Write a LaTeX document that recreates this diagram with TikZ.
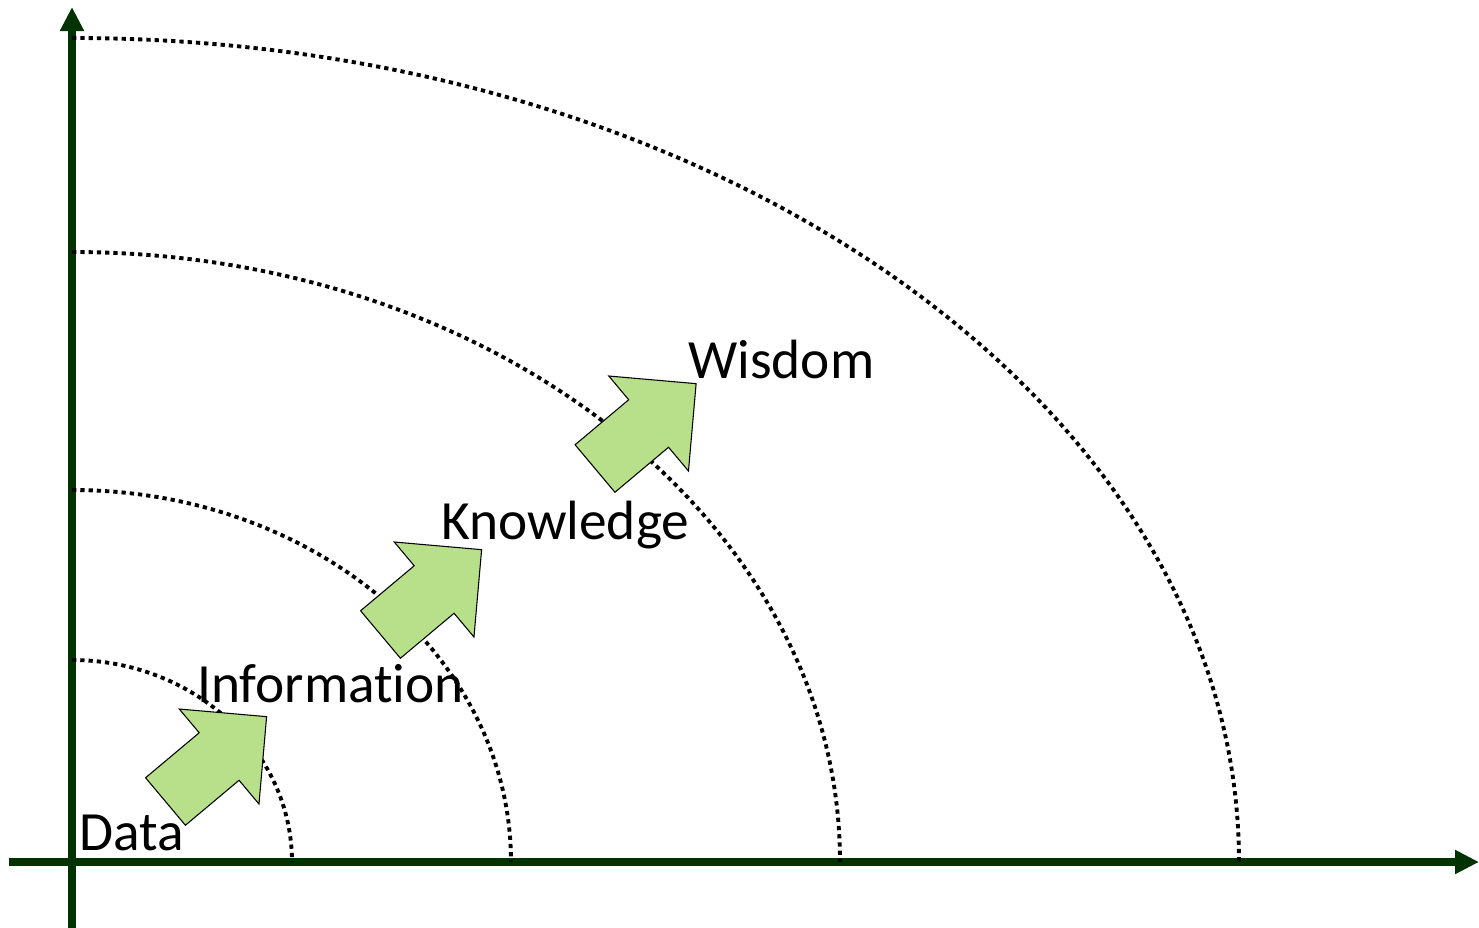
\documentclass[tikz,border=0pt]{standalone}
\usepackage{fontspec}
\setmainfont{Carlito}[Ligatures=NoCommon]
\usepackage{tikz}
\usetikzlibrary{arrows.meta}

\definecolor{axisgreen}{RGB}{0,51,0}
\definecolor{stepgreen}{RGB}{184,224,138}

\tikzset{
  axisline/.style={draw=axisgreen, line width=6pt, -{Triangle[width=17pt,length=18pt]}},
  dotline/.style={line width=2.9pt, dash pattern=on 3.2pt off 3pt},
  stepshape/.style={draw=black, fill=stepgreen, line width=0.8pt, line join=miter},
  levellabel/.style={anchor=base west, inner sep=0pt, font=\fontsize{41.5}{50}\selectfont},
}

\begin{document}
\begin{tikzpicture}[x=0.75pt,y=0.75pt,yscale=-1,xscale=1]
\useasboundingbox (0,0) rectangle (1479,928);

%Axes
\coordinate (origin) at (72,862);
\coordinate (ybot) at (72,928);
\coordinate (ytop) at (72,7);
\coordinate (xleft) at (9,862);
\coordinate (xright) at (1479,862);
\draw [axisline] (ybot) -- (ytop);
\draw [axisline] (xleft) -- (xright);

%Dotted quarter ellipses round the origin
\foreach \rx/\ry in {220/202, 439/372, 768/610, 1167/824}
  \draw [dotline] (origin) ++(0,-\ry) arc [start angle=-90, end angle=0, x radius=\rx, y radius=\ry];

%Block arrows, one per step
\foreach \px/\py in {165.5/801.5, 380.5/634.5, 595/468.5}
{
  \begin{scope}[shift={(\px,\py)}, rotate=-40]
    \draw [stepshape] (0,-31) -- (70,-31) -- (70,-62) -- (132,0) -- (70,62) -- (70,31) -- (0,31) -- cycle;
  \end{scope}
}

% Text Nodes
\node [levellabel] (data) at (79,850) {Data};
\node [levellabel] (information) at (197,702) {Information};
\node [levellabel] (knowledge) at (441,539) {Knowledge};
\node [levellabel] (wisdom) at (688,378) {Wisdom};

\end{tikzpicture}
\end{document}
